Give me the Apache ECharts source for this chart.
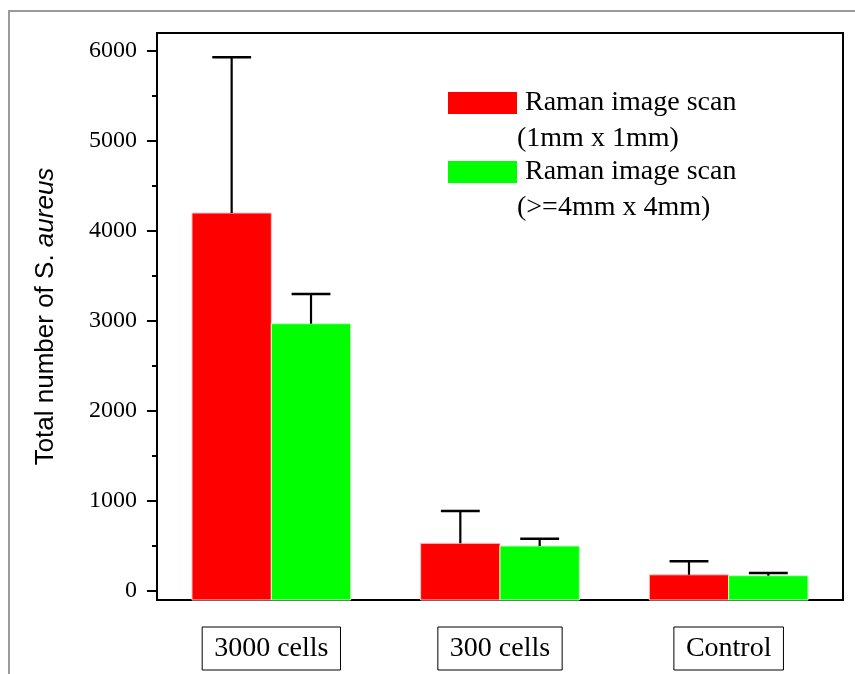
<!DOCTYPE html>
<html>
<head>
<meta charset="utf-8">
<script src="https://cdn.jsdelivr.net/npm/echarts@6/dist/echarts.min.js"></script>
<style>
html,body{margin:0;padding:0;background:#fff;}
#chart{width:855px;height:674px;}
</style>
</head>
<body>
<div id="chart"></div>
<script>
const categories = ['3000 cells', '300 cells', 'Control'];
const seriesNames = ['Raman image scan (1mm x 1mm)', 'Raman image scan (>=4mm x 4mm)'];
const legendFirstLine = 'Raman image scan';
const legendSecondLines = ['(1mm x 1mm)', '(>=4mm x 4mm)'];
const redValues = [4200, 530, 180];
const redErrors = [1730, 360, 150];
const greenValues = [2970, 500, 170];
const greenErrors = [330, 80, 30];
const yTickLabels = [0, 1000, 2000, 3000, 4000, 5000, 6000];
const yMinorTicks = [500, 1500, 2500, 3500, 4500, 5500];
const Y_MIN = -100, Y_MAX = 6200;

const SERIF = "'Liberation Serif', 'Times New Roman', serif";
const SANS = "'Liberation Sans', Arial, sans-serif";

function barRenderer(side, fill, edge) {
  return function (params, api) {
    const cat = api.value(0), v = api.value(1);
    const top = api.coord([cat, v]);
    const base = api.coord([cat, Y_MIN]);
    const band = api.size([1, 0])[0];
    const w = band * 0.347;
    const x = side < 0 ? top[0] - w : top[0];
    return {
      type: 'rect',
      shape: { x: x, y: top[1], width: w, height: base[1] - top[1] },
      style: { fill: fill, stroke: edge, lineWidth: 1 }
    };
  };
}
function errRenderer(side) {
  return function (params, api) {
    const cat = api.value(0), v = api.value(1), e = api.value(2);
    const band = api.size([1, 0])[0];
    const w = band * 0.347;
    const p0 = api.coord([cat, v]);
    const p1 = api.coord([cat, v + e]);
    const cx = p0[0] + side * w / 2;
    const cap = band * 0.085;
    return {
      type: 'group',
      children: [
        { type: 'line', shape: { x1: cx, y1: p0[1], x2: cx, y2: p1[1] }, style: { stroke: '#000', lineWidth: 2.2 } },
        { type: 'line', shape: { x1: cx - cap, y1: p1[1], x2: cx + cap, y2: p1[1] }, style: { stroke: '#000', lineWidth: 2.5 } }
      ]
    };
  };
}
const toData = (vals, errs) => vals.map((v, i) => [i, v, errs[i]]);

const chart = echarts.init(document.getElementById('chart'), null, { renderer: 'canvas' });
chart.setOption({
  animation: false,
  backgroundColor: '#fff',
  grid: { left: 157, right: 12, top: 33, bottom: 74, show: true, borderColor: '#000', borderWidth: 2, backgroundColor: 'transparent' },
  legend: {
    left: 448, top: 88, orient: 'vertical', padding: 0,
    itemWidth: 69, itemHeight: 22, itemGap: 39, icon: 'rect',
    data: seriesNames,
    formatter: function () { return legendFirstLine; },
    textStyle: { fontFamily: SERIF, fontSize: 28, color: '#000', lineHeight: 30, padding: [0, 0, 0, 3] }
  },
  graphic: [
    { type: 'rect', shape: { x: 9, y: 11, width: 900, height: 700 }, style: { fill: 'none', stroke: '#9a9a9a', lineWidth: 2 }, silent: true, z: -10 },
    { type: 'text', left: 517, top: 125, style: { text: legendSecondLines[0], font: '28px ' + SERIF, fill: '#000' } },
    { type: 'text', left: 517, top: 194, style: { text: legendSecondLines[1], font: '28px ' + SERIF, fill: '#000' } }
  ],
  xAxis: {
    type: 'category', data: categories,
    axisLine: { onZero: false, lineStyle: { color: '#000', width: 2 } },
    axisTick: { show: false },
    splitLine: { show: false },
    axisLabel: {
      fontFamily: SERIF, fontSize: 28, color: '#000', margin: 27,
      borderColor: '#000', borderWidth: 1, padding: [8, 12, 7, 12]
    }
  },
  yAxis: [
    {
      type: 'value', min: Y_MIN, max: Y_MAX,
      axisLine: { show: true, lineStyle: { color: '#000', width: 2 } },
      axisTick: { show: true, length: 10, customValues: yTickLabels, lineStyle: { color: '#000', width: 2 } },
      axisLabel: { customValues: yTickLabels, formatter: function (v) { return String(v); }, fontFamily: SERIF, fontSize: 24, color: '#000', margin: 20 },
      splitLine: { show: false },
      name: 'Total number of S. {i|aureus}',
      nameLocation: 'middle', nameRotate: 90, nameGap: 98,
      nameTextStyle: { fontFamily: SANS, fontSize: 26, color: '#000', rich: { i: { fontFamily: SANS, fontSize: 26, fontStyle: 'italic', color: '#000' } } }
    },
    {
      type: 'value', min: Y_MIN, max: Y_MAX, position: 'left',
      axisLine: { show: false },
      axisTick: { show: true, length: 5, customValues: yMinorTicks, lineStyle: { color: '#000', width: 2 } },
      axisLabel: { show: false },
      splitLine: { show: false }
    }
  ],
  series: [
    { name: seriesNames[0], type: 'custom', renderItem: barRenderer(-1, '#ff0000', '#ffc4c4'), encode: { x: 0, y: 1 }, itemStyle: { color: '#ff0000' }, data: toData(redValues, redErrors), z: 2 },
    { name: seriesNames[1], type: 'custom', renderItem: barRenderer(1, '#00ff00', '#c4ffc4'), encode: { x: 0, y: 1 }, itemStyle: { color: '#00ff00' }, data: toData(greenValues, greenErrors), z: 2 },
    { name: 'err1', type: 'custom', renderItem: errRenderer(-1), encode: { x: 0, y: 1 }, data: toData(redValues, redErrors), z: 3 },
    { name: 'err2', type: 'custom', renderItem: errRenderer(1), encode: { x: 0, y: 1 }, data: toData(greenValues, greenErrors), z: 3 }
  ]
});
</script>
</body>
</html>
